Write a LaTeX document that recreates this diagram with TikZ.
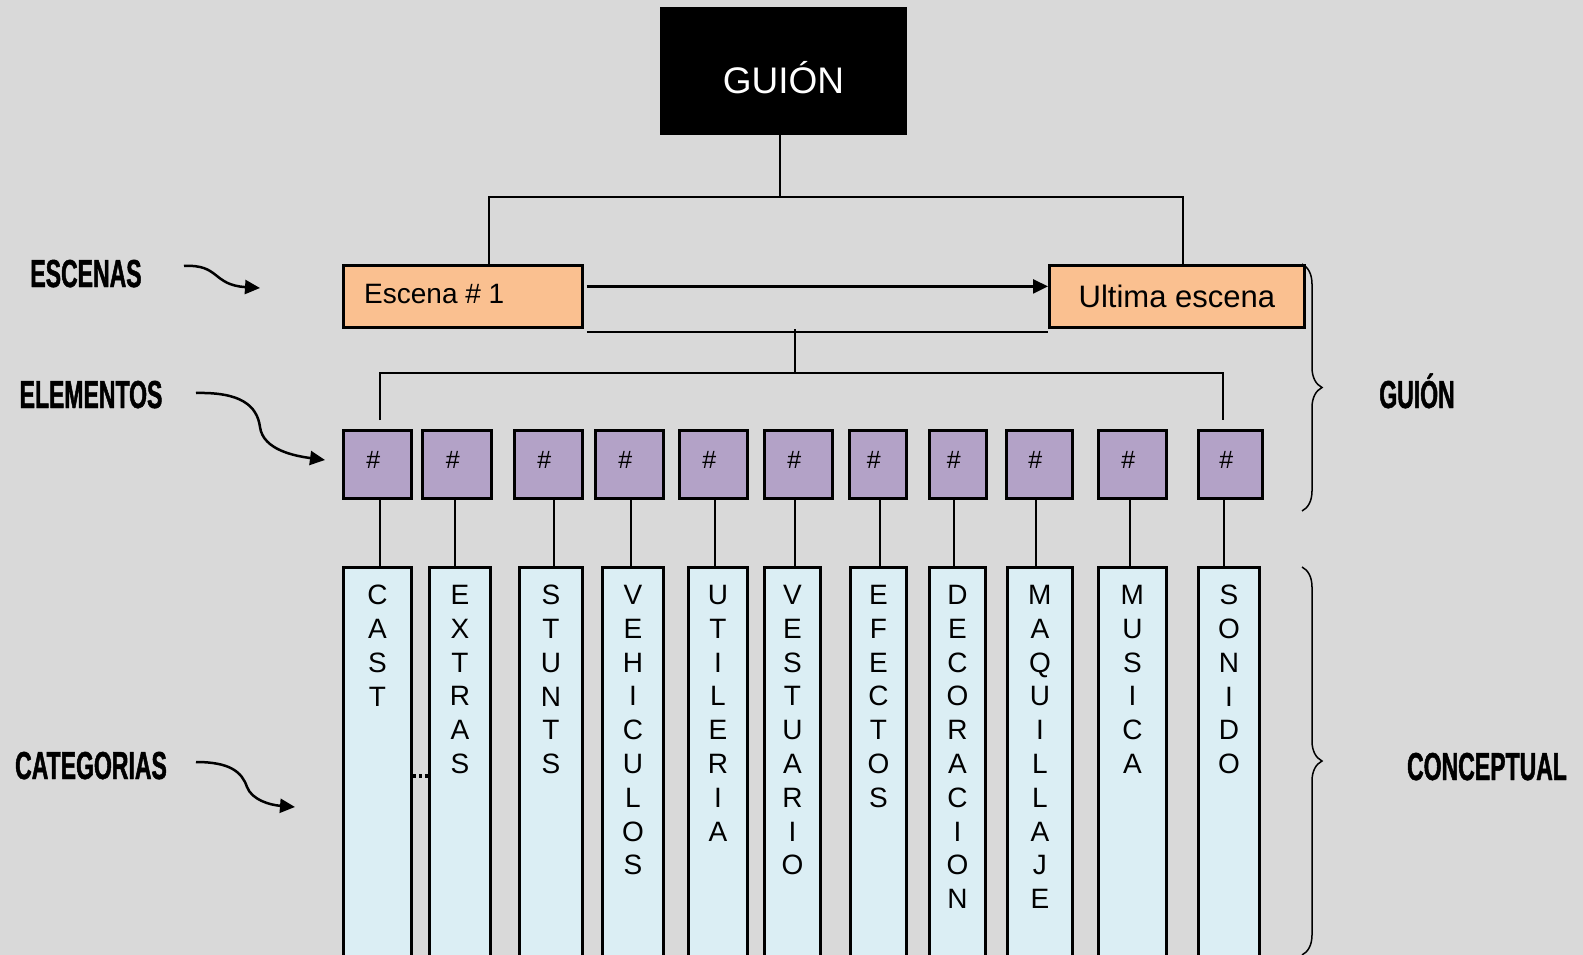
\documentclass[tikz,border=0pt]{standalone}
\usepackage{fontspec}
\setmainfont{Liberation Sans}
\newfontfamily\lblfont[FakeStretch=0.59, FakeBold=1.2]{Liberation Sans}
\usetikzlibrary{arrows.meta,decorations.pathreplacing,calc}
\definecolor{bg}{HTML}{D9D9D9}
\definecolor{orangefill}{HTML}{FAC090}
\definecolor{purplefill}{HTML}{B3A2C7}
\definecolor{bluefill}{HTML}{DBEEF4}
\begin{document}
\begin{tikzpicture}[x=1pt,y=-1pt,
  conn/.style={line width=2.4pt, draw=black},
  bx/.style={draw=black, line width=2.8pt, inner sep=0pt, anchor=north west},
  topbox/.style={bx, fill=black},
  scenebox/.style={bx, fill=orangefill, minimum height=62pt},
  elembox/.style={bx, fill=purplefill, minimum height=68pt},
  catbox/.style={bx, fill=bluefill, minimum height=400pt},
  hashtxt/.style={inner sep=0pt, font=\fontsize{25}{25}\selectfont},
  cattxt/.style={anchor=north, inner sep=0pt, align=center, font=\fontsize{28}{33.8}\selectfont},
  sidelbl/.style={anchor=base, inner sep=0pt, font=\lblfont\bfseries\fontsize{39}{39}\selectfont},
  curl/.style={line width=2.5pt, -{Triangle[length=15pt,width=14pt]}},
  brc/.style={line width=1.5pt, decorate, decoration={brace, amplitude=20pt}},
]
\fill[bg] (0,0) rectangle (1583,955);
\useasboundingbox (0,0) rectangle (1583,955);

% top
\node[topbox, minimum width=244pt, minimum height=125pt] (guion) at (660,7) {};
\node[anchor=base, text=white, inner sep=0pt, font=\fontsize{37}{37}\selectfont] (guiontxt) at ([yshift=-22.5pt]guion.center) {GUIÓN};

% scenes
\node[scenebox, minimum width=239pt] (esc1) at (342,264) {};
\node[anchor=west, inner sep=0pt, font=\fontsize{28}{28}\selectfont] (esc1txt) at ([xshift=22pt,yshift=2pt]esc1.west) {Escena \# 1};
\node[scenebox, minimum width=255pt, font=\fontsize{31}{31}\selectfont] (ult) at (1048,264) {Ultima escena};

\coordinate (tl) at (489,197);
\coordinate (tr) at (1183,197);
\coordinate (tc) at (780,197);
\draw[conn] (guion.south -| tc) -- (tc);
\draw[conn] (esc1.north -| tl) -- (tl) -- (tr) -- (ult.north -| tr);
\draw[conn, -{Triangle[length=15pt,width=14pt]}] ([xshift=3pt,yshift=10pt]esc1.east) -- ([yshift=10pt]ult.west);
\draw[conn] ([xshift=3pt,yshift=-3pt]esc1.south east) -- ([yshift=-3pt]ult.south west);

\coordinate (m1) at (795,329);
\coordinate (m2) at (795,373);
\coordinate (hl) at (380,373);
\coordinate (hr) at (1223,373);
\coordinate (el) at (380,420);
\coordinate (er) at (1223,420);
\draw[conn] (m1) -- (m2);
\draw[conn] (el) -- (hl) -- (hr) -- (er);

% elements
\foreach \i/\cx/\cw in {1/342/68, 2/421/69, 3/513/68, 4/594/68, 5/678/68, 6/763/68, 7/848/57, 8/928/57, 9/1005/66, 10/1097/68, 11/1197/64} {
  \node[elembox, minimum width=\cw pt] (b\i) at (\cx,429) {};
  \node[hashtxt] (h\i) at ([shift={(-4pt,4pt)}]b\i.center) {\#};
}

% categories
\foreach \i/\cx/\cw/\word in {
  1/342/68/{C\\A\\S\\T},
  2/428/61/{E\\X\\T\\R\\A\\S},
  3/518/63/{S\\T\\U\\N\\T\\S},
  4/601/61/{V\\E\\H\\I\\C\\U\\L\\O\\S},
  5/687/59/{U\\T\\I\\L\\E\\R\\I\\A},
  6/763/56/{V\\E\\S\\T\\U\\A\\R\\I\\O},
  7/849/56/{E\\F\\E\\C\\T\\O\\S},
  8/928/56/{D\\E\\C\\O\\R\\A\\C\\I\\O\\N},
  9/1006/65/{M\\A\\Q\\U\\I\\L\\L\\A\\J\\E},
  10/1097/68/{M\\U\\S\\I\\C\\A},
  11/1197/61/{S\\O\\N\\I\\D\\O}} {
  \node[catbox, minimum width=\cw pt] (c\i) at (\cx,566) {};
  \node[cattxt] (t\i) at ([yshift=-19pt]c\i.north) {\word};
}

\foreach \i/\k in {1/380, 2/455, 3/554, 4/631, 5/715, 6/795, 7/880, 8/954, 9/1036, 10/1130, 11/1224} {
  \draw[conn] (\k,0 |- b\i.south) -- (\k,0 |- c\i.north);
}

\draw[line width=3.5pt, dash pattern=on 3.5pt off 2.5pt] (c1.east |- 0,776) -- (c2.west |- 0,776);

% side labels
\node[sidelbl] (lesc) at (86,287) {ESCENAS};
\node[sidelbl] (lele) at (91,408) {ELEMENTOS};
\node[sidelbl] (lcat) at (91,779) {CATEGORIAS};
\node[sidelbl] (lgui) at (1417,408) {GUIÓN};
\node[sidelbl] (lcon) at (1487,780) {CONCEPTUAL};

% curly arrows
\coordinate (a1s) at (184,266);
\coordinate (a1e) at (260,288);
\draw[curl] (a1s) .. controls (220,264) and (212,285) .. (a1e);
\coordinate (a2s) at (196,393);
\coordinate (a2m) at (260,427);
\coordinate (a2e) at (325,460);
\draw[curl] (a2s) .. controls (240,392) and (257,405) .. (a2m) .. controls (263,450) and (295,456) .. (a2e);
\coordinate (a3s) at (196,762);
\coordinate (a3m) at (247,787);
\coordinate (a3e) at (295,807);
\draw[curl] (a3s) .. controls (230,762) and (242,772) .. (a3m) .. controls (252,800) and (270,805) .. (a3e);

% braces
\coordinate (br1t) at (1302,264);
\coordinate (br1b) at (1302,511);
\coordinate (br2t) at (1302,567);
\coordinate (br2b) at (1302,955);
\draw[brc] (br1t) -- (br1b);
\draw[brc] (br2t) -- (br2b);
\end{tikzpicture}
\end{document}
